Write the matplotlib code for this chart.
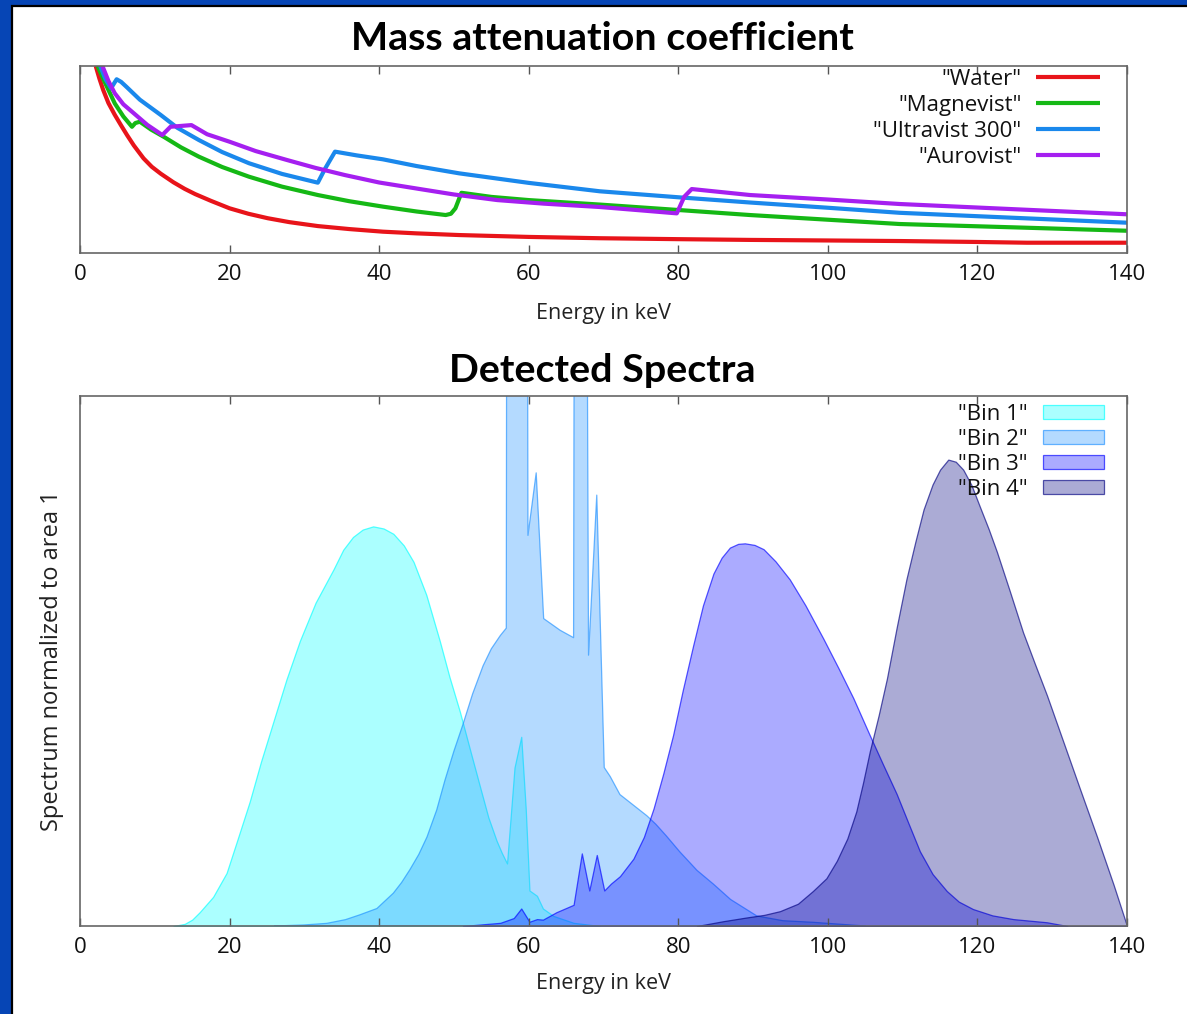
import matplotlib
matplotlib.use('Agg')
import matplotlib.pyplot as plt
from matplotlib.patches import Rectangle

plt.rcParams['font.family'] = ['Open Sans', 'DejaVu Sans']

# ---------------- data: mass attenuation (relative units, axis 0..100) -------------
water_e = [2.1, 2.6, 3.1, 3.8, 4.65, 5.5, 6.3, 7.2, 8.5, 9.6, 10.8, 12.5, 14.0, 15.4, 17.5, 20.0,
           22.5, 25.1, 28.0, 31.8, 36.0, 40.5, 45.0, 50.7, 60.0, 69.5, 80.0, 89.6, 100.0, 109.6,
           120.0, 126.6, 140]
water_v = [100, 93.2, 87.2, 80.2, 73.9, 68.2, 63.0, 57.5, 50.6, 46.1, 42.4, 37.8, 34.3, 31.5, 27.9, 23.9,
           21, 18.6, 16.5, 14.4, 12.8, 11.4, 10.5, 9.6, 8.6, 7.9, 7.4, 7.0, 6.7, 6.4,
           5.9, 5.5, 5.5]

magnevist_e = [2.35, 3.0, 3.6, 4.65, 5.8, 6.95, 7.4, 8.0, 9.5, 11.3, 13.5, 15.9, 19.0, 22.6, 27.0,
               31.8, 36.0, 40.5, 45.0, 48.9, 49.6, 50.2, 51.0, 55.0, 60.0, 69.5, 80.0, 89.6,
               100.0, 109.6, 125.0, 140]
magnevist_v = [100, 94, 88.9, 80.0, 73, 67.5, 69.5, 70.2, 66, 61.9, 56.5, 51.5, 46, 40.8, 35.5,
               31.0, 27.7, 24.8, 22.2, 20.3, 21.0, 23.9, 32.2, 30.0, 28.3, 25.9, 23.0, 20.3,
               17.8, 15.5, 13.7, 11.9]

ultravist_e = [2.7, 3.4, 4.15, 4.9, 5.5, 6.2, 8.0, 10.8, 13.0, 15.9, 19.0, 22.6, 27.0, 31.8, 32.8,
               34.1, 37.0, 40.5, 45.0, 50.7, 60.0, 69.5, 80.0, 89.6, 100.0, 109.6, 125.0, 140]
ultravist_v = [100, 93, 88.1, 92.9, 91.5, 88.9, 82, 73.8, 67, 60.4, 54, 48.0, 42.3, 37.6, 45.3,
               54.2, 52.2, 50.1, 46.5, 42.6, 37.5, 33.0, 29.8, 27.0, 24.2, 21.5, 18.8, 16.2]

aurovist_e = [3.0, 3.8, 4.65, 5.8, 7.2, 9.0, 11.0, 12.1, 14.9, 17.0, 20.0, 23.5, 27.7, 31.5, 35.4,
              40.0, 45.6, 50.0, 55.8, 62.0, 69.5, 75.0, 79.8, 80.8, 81.8, 89.6, 100.0, 109.6,
              125.0, 140]
aurovist_v = [100, 92, 85.4, 79.5, 74.7, 68.5, 63.1, 67.5, 68.4, 63.5, 59.5, 54.5, 49.7, 45.5, 41.7,
              37.7, 34.1, 31.3, 28.3, 26.4, 24.6, 22.8, 21.2, 30.1, 34.2, 31.0, 28.6, 26.2,
              23.4, 20.7]

material_names = ['Water', 'Magnevist', 'Ultravist 300', 'Aurovist']
material_colors = ['#e8141a', '#15b815', '#1a88ec', '#a51ff0']

# ---------------- data: detected spectra (relative units, axis 0..100) -------------
bin1_e = [12.5, 14.0, 15.0, 16.0, 17.8, 19.6, 21.1, 22.7, 24.2, 25.8, 27.6, 29.4, 31.5, 33.9, 35.2,
          36.5, 37.8, 39.2, 40.6, 41.9, 43.3, 44.6, 46.3, 48.1, 49.4, 50.8, 52.2, 53.5, 54.6,
          55.7, 56.4, 57.1, 58.1, 59.0, 59.6, 60.1, 61.1, 61.9, 63.3, 66.0, 69.5]
bin1_v = [0, 0.4, 1.2, 2.6, 5.5, 10.0, 16.5, 23.5, 31.0, 38.3, 46.5, 53.8, 61.0, 67.3, 71.0,
          73.4, 74.8, 75.4, 75.0, 74.0, 71.8, 68.7, 62.5, 53.8, 47.0, 40.4, 33.0, 26.2, 20.5,
          16.1, 13.8, 11.8, 29.9, 35.7, 22.2, 6.7, 5.7, 3.3, 1.9, 0.6, 0]

bin2_e = [26, 30.0, 33.0, 35.5, 37.4, 39.7, 41.9, 43.0, 44.1, 45.3, 46.4, 47.7, 48.8, 50.0, 51.2,
          52.5, 53.9, 55.0, 56.2, 57.0, 57.2, 59.6, 59.9, 61.0, 62.0, 64.2, 66.0, 66.3, 67.3,
          68.0, 69.1, 70.1, 70.9, 72.2, 74.0, 75.8, 77.0, 78.4, 80.2, 82.5, 84.7, 87.0, 90.5,
          94.0, 98.0, 105]
bin2_v = [0, 0.2, 0.5, 1.2, 2.1, 3.3, 6.2, 8.2, 10.6, 13.5, 16.8, 21.9, 27.5, 33.0, 38.0,
          43.8, 49.1, 52.3, 54.8, 56.2, 300, 300, 73.7, 85.5, 58.0, 55.8, 54.4, 300, 300,
          51.1, 81.3, 29.9, 28.2, 24.8, 22.8, 20.8, 19.2, 17.0, 14.0, 10.5, 7.9, 5.0, 1.9,
          1.0, 0.7, 0]

bin3_e = [51.2, 56.2, 58.0, 59.0, 60.1, 61.1, 61.9, 63.7, 66.0, 67.1, 68.1, 69.1, 70.1, 71.0, 72.2,
          74.0, 75.4, 76.7, 78.0, 79.3, 80.6, 82.0, 83.3, 84.7, 85.8, 86.9, 88.0, 88.9, 90.2,
          91.4, 93.0, 94.9, 97.0, 99.4, 101.4, 103.4, 105.6, 107.4, 109.2, 110.8, 112.3, 114.0,
          115.9, 117.5, 119.4, 122.0, 124.8, 129.3, 132]
bin3_v = [0, 0.6, 1.5, 3.3, 0.8, 1.3, 1.2, 2.6, 4.0, 13.7, 6.7, 13.4, 6.7, 8.0, 9.4,
          12.7, 16.8, 22.2, 28.8, 36.0, 44.5, 53.0, 60.5, 66.5, 69.5, 71.4, 72.1, 72.2, 71.9,
          71.1, 68.8, 65.4, 60.5, 54.2, 48.7, 43.0, 36.0, 30.4, 24.9, 19.3, 14.1, 9.8,
          6.6, 4.6, 3.2, 2.0, 1.3, 0.7, 0]

bin4_e = [82.5, 86.0, 89.1, 91.5, 93.6, 96.0, 98.0, 99.8, 101.2, 102.6, 103.8, 104.7, 105.6, 106.8,
          107.9, 109.2, 110.5, 111.7, 112.8, 114.0, 115.0, 116.1, 117.1, 118.1, 119.2, 120.3,
          121.5, 122.6, 124.3, 126.1, 127.7, 129.3, 131.5, 133.7, 136.0, 138.2, 140]
bin4_v = [0, 0.9, 1.6, 2.1, 2.8, 4.2, 6.6, 9.0, 12.3, 16.5, 21.6, 27.0, 32.9, 39.8,
          46.7, 56.3, 65.4, 72.5, 78.6, 83.3, 86.1, 88.0, 87.6, 86.1, 83.2, 79.2,
          74.9, 70.6, 63.3, 55.4, 49.4, 43.5, 34.7, 25.9, 16.8, 7.8, 0]

bin_names = ['Bin 1', 'Bin 2', 'Bin 3', 'Bin 4']
bin_colors = ['#00ffff', '#1e90ff', '#0000ff', '#000080']

xticks = [0, 20, 40, 60, 80, 100, 120, 140]

# ---------------- figure ----------------
W, H = 1187, 1014
fig = plt.figure(figsize=(W / 100, H / 100), dpi=100)
fig.patch.set_facecolor('#0645b5')
fig.patches.append(Rectangle((11.5 / W, -0.05), 1.2, (H - 6) / H + 0.05, transform=fig.transFigure,
                             facecolor='white', edgecolor='black', linewidth=1.6, zorder=-10))

SPINE = '#666666'


def style_axes(ax):
    ax.set_xlim(0, 140)
    ax.set_ylim(0, 100)
    ax.set_yticks([])
    ax.set_xticks(xticks)
    ax.tick_params(axis='x', direction='in', top=True, length=6, width=1, color='#555555',
                   labelsize=16, pad=8, labelcolor='#111111')
    for s in ax.spines.values():
        s.set_color(SPINE)
        s.set_linewidth(1.2)


# top chart
ax1 = fig.add_axes([80 / W, (H - 253) / H, 1047 / W, 187 / H])
ax1.set_zorder(1)
series = [(water_e, water_v), (magnevist_e, magnevist_v), (ultravist_e, ultravist_v), (aurovist_e, aurovist_v)]
for (e, v), name, c in zip(series, material_names, material_colors):
    ax1.plot(e, v, color=c, lw=3, label='"%s"' % name, solid_capstyle='butt')
style_axes(ax1)
ax1.set_xlabel('Energy in keV', fontsize=15.5, color='#222222', va='center')
ax1.xaxis.set_label_coords(0.5, -60 / 187)
ax1.legend(loc='upper right', bbox_to_anchor=((1100 - 80) / 1047, 1.0 - 2.5 / 187), frameon=False,
           markerfirst=False, fontsize=16, handlelength=2.9, handletextpad=0.63,
           borderpad=0, borderaxespad=0, labelspacing=0.235, labelcolor='#111111')

# bottom chart
ax2 = fig.add_axes([80 / W, (H - 926) / H, 1047 / W, 530 / H])
ax2.set_zorder(1)
spectra = [(bin1_e, bin1_v), (bin2_e, bin2_v), (bin3_e, bin3_v), (bin4_e, bin4_v)]
for (e, v), name, c in zip(spectra, bin_names, bin_colors):
    ax2.fill_between(e, 0, v, facecolor=(matplotlib.colors.to_rgb(c) + (0.33,)),
                     edgecolor=(matplotlib.colors.to_rgb(c) + (0.65,)), linewidth=0.9,
                     label='"%s"' % name)
style_axes(ax2)
ax2.set_xlabel('Energy in keV', fontsize=15.5, color='#222222', va='center')
ax2.xaxis.set_label_coords(0.5, -57 / 530)
ax2.set_ylabel('Spectrum normalized to area 1', fontsize=17, color='#222222', va='center')
ax2.yaxis.set_label_coords(-28 / 1047, 0.5)
ax2.legend(loc='upper right', bbox_to_anchor=((1104 - 80) / 1047, (926 - 404) / 530), frameon=False,
           markerfirst=False, fontsize=16, handlelength=2.75, handleheight=0.55, handletextpad=0.68,
           borderpad=0, borderaxespad=0, labelspacing=0.18, labelcolor='#111111')

# titles
fig.text(602 / W, 1 - 38 / H, 'Mass attenuation coefficient', ha='center', va='center',
         fontsize=28.4, fontweight='bold', family=['Lato', 'DejaVu Sans'], color='black')
fig.text(602 / W, 1 - 370 / H, 'Detected Spectra', ha='center', va='center',
         fontsize=28.4, fontweight='bold', family=['Lato', 'DejaVu Sans'], color='black')

fig.savefig('out.png', dpi=100, facecolor=fig.get_facecolor())
